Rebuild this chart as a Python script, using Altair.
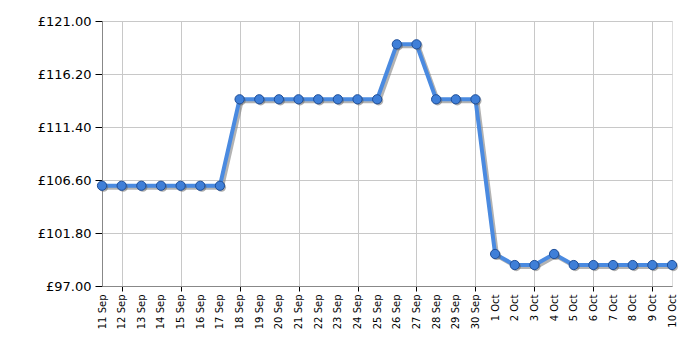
import altair as alt
import pandas as pd

dates = ["11 Sep", "12 Sep", "13 Sep", "14 Sep", "15 Sep", "16 Sep", "17 Sep",
         "18 Sep", "19 Sep", "20 Sep", "21 Sep", "22 Sep", "23 Sep", "24 Sep",
         "25 Sep", "26 Sep", "27 Sep", "28 Sep", "29 Sep", "30 Sep",
         "1 Oct", "2 Oct", "3 Oct", "4 Oct", "5 Oct", "6 Oct", "7 Oct",
         "8 Oct", "9 Oct", "10 Oct"]
prices = [106.08, 106.08, 106.08, 106.08, 106.08, 106.08, 106.08,
          113.91, 113.91, 113.91, 113.91, 113.91, 113.91, 113.91,
          113.91, 118.89, 118.89, 113.91, 113.91, 113.91,
          99.90, 98.90, 98.90, 99.90, 98.90, 98.90, 98.90,
          98.90, 98.90, 98.90]
y_ticks = [97.0, 101.8, 106.6, 111.4, 116.2, 121.0]
grid_dates = ["12 Sep", "15 Sep", "18 Sep", "21 Sep", "24 Sep", "27 Sep",
              "30 Sep", "3 Oct", "6 Oct", "9 Oct"]

df = pd.DataFrame({"date": dates, "price": prices})

grid_test = "indexof([" + ",".join("'" + d + "'" for d in grid_dates) + "], datum.value) >= 0"

x_enc = alt.X(
    "date:O", sort=dates, title=None,
    scale=alt.Scale(type="point", padding=0),
    axis=alt.Axis(
        labelAngle=270, labelFontSize=10, labelFont="DejaVu Sans",
        labelColor="#000000", labelPadding=3,
        domainColor="#888888", tickColor="#000000", tickSize=5,
        gridColor="#c8c8c8",
        gridOpacity={"condition": {"test": grid_test, "value": 1}, "value": 0},
        tickOpacity={"condition": {"test": grid_test, "value": 1}, "value": 0},
        grid=True, labelOverlap=False,
    ),
)
y_enc = alt.Y(
    "price:Q", title=None,
    scale=alt.Scale(domain=[97, 121], nice=False, zero=False),
    axis=alt.Axis(
        values=y_ticks, labelExpr="'£' + format(datum.value, '.2f')",
        labelFontSize=13, labelFont="DejaVu Sans", labelColor="#000000",
        labelPadding=4, tickSize=7, tickColor="#000000",
        domainColor="#888888", gridColor="#c8c8c8",
    ),
)

base = alt.Chart(df)
shadow_line = base.mark_line(color="#808080", strokeWidth=4, opacity=0.6,
                             xOffset=2, yOffset=2).encode(x=x_enc, y=y_enc)
shadow_pts = base.mark_circle(color="#606060", size=85, opacity=0.5,
                              xOffset=1.5, yOffset=1.5).encode(x=x_enc, y=y_enc)
line = base.mark_line(color="#4a8ae0", strokeWidth=4).encode(x=x_enc, y=y_enc)
pts = base.mark_point(filled=True, fill="#3f7fd8", stroke="#1f4f99",
                      strokeWidth=1, size=85, opacity=1).encode(x=x_enc, y=y_enc)

chart = alt.layer(shadow_line, line, shadow_pts, pts).properties(
    width=570, height=265,
    autosize=alt.AutoSizeParams(type="none"),
    padding={"left": 102, "top": 21, "right": 28, "bottom": 64},
).configure_view(stroke="#b0b0b0").configure(background="white")

chart.save("out.html", embed_options={"renderer": "svg", "actions": False})
